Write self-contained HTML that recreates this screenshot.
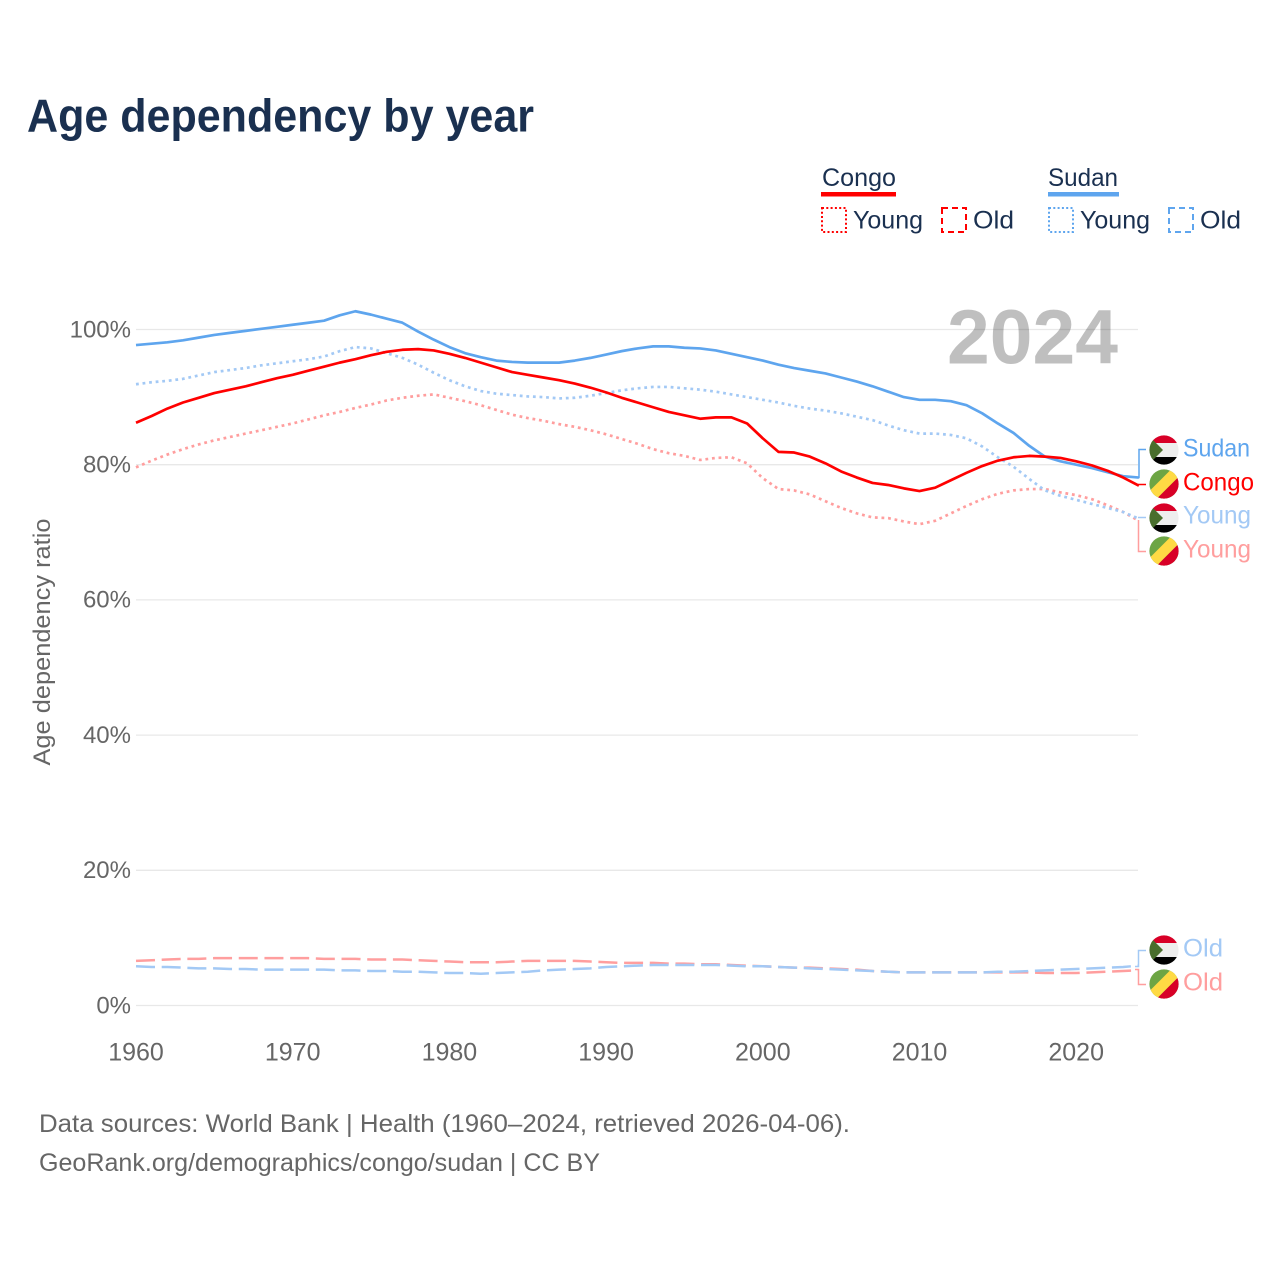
<!DOCTYPE html>
<html lang="en">
<head>
<meta charset="utf-8">
<title>Age dependency by year</title>
<style>
html,body{margin:0;padding:0;background:#fff;width:1280px;height:1280px;overflow:hidden}
svg{display:block}
text{font-family:"Liberation Sans",sans-serif}
</style>
</head>
<body>
<svg id="chart" xmlns="http://www.w3.org/2000/svg" width="1280" height="1280" viewBox="0 0 1280 1280">
  <defs>
    <clipPath id="flag-clip"><circle cx="15" cy="15" r="14.6"/></clipPath>
    <g id="flag-sudan">
      <g clip-path="url(#flag-clip)">
        <rect x="0" y="0" width="30" height="8" fill="#d80027"/>
        <rect x="0" y="8" width="30" height="14" fill="#eeeeee"/>
        <rect x="0" y="22" width="30" height="8" fill="#000000"/>
        <polygon points="0,1 14,15 0,29" fill="#496e2d"/>
      </g>
    </g>
    <g id="flag-congo">
      <g clip-path="url(#flag-clip)">
        <rect x="0" y="0" width="30" height="30" fill="#6da544"/>
        <polygon points="0,22.500 22.500,0 30,0 30,7.500 7.500,30 0,30" fill="#ffda44"/>
        <polygon points="7.500,30 30,7.500 30,30" fill="#d80027"/>
      </g>
    </g>
  </defs>

  <text x="27" y="131.500" font-size="46" font-weight="700" fill="#1a3050" textLength="507" lengthAdjust="spacingAndGlyphs">Age dependency by year</text>

  <g id="grid"></g>
  <g id="yticks"></g>
  <g id="xticks"></g>

  <text transform="translate(50,642) rotate(-90)" text-anchor="middle" font-size="24" fill="#666666" textLength="247" lengthAdjust="spacingAndGlyphs">Age dependency ratio</text>

  <text x="947" y="363.500" font-size="77" font-weight="700" fill="#000000" fill-opacity="0.25" textLength="171" lengthAdjust="spacingAndGlyphs">2024</text>

  <g id="series"></g>

  <g fill="none" stroke-width="1.500">
    <path d="M1138 477.500H1139V449.500H1146" stroke="#5ea5ee"/>
    <path d="M1138 484.500H1146" stroke="#ff0000"/>
    <path d="M1138 517.500H1146" stroke="#a3c9f5"/>
    <path d="M1138.500 520V551.500H1146" stroke="#ff9e9e"/>
    <path d="M1135 966.500H1138.500V950.500H1146" stroke="#a3c9f5"/>
    <path d="M1135 969.500H1138.500V984.500H1146" stroke="#ff9e9e"/>
  </g>

  <g>
    <use href="#flag-sudan" x="1149" y="435"/>
    <text x="1183" y="456.500" font-size="25" fill="#5ea5ee" textLength="67" lengthAdjust="spacingAndGlyphs">Sudan</text>
    <use href="#flag-congo" x="1149" y="469"/>
    <text x="1183" y="490.500" font-size="25" fill="#ff0000" textLength="71" lengthAdjust="spacingAndGlyphs">Congo</text>
    <use href="#flag-sudan" x="1149" y="503"/>
    <text x="1183" y="523.500" font-size="25" fill="#a3c9f5" textLength="68" lengthAdjust="spacingAndGlyphs">Young</text>
    <use href="#flag-congo" x="1149" y="536"/>
    <text x="1183" y="557.500" font-size="25" fill="#ff9e9e" textLength="68" lengthAdjust="spacingAndGlyphs">Young</text>
    <use href="#flag-sudan" x="1149" y="935"/>
    <text x="1183" y="956.500" font-size="25" fill="#a3c9f5" textLength="40" lengthAdjust="spacingAndGlyphs">Old</text>
    <use href="#flag-congo" x="1149" y="969"/>
    <text x="1183" y="990.500" font-size="25" fill="#ff9e9e" textLength="40" lengthAdjust="spacingAndGlyphs">Old</text>
  </g>

  <g fill="#1a3050">
    <text x="822" y="186" font-size="25" textLength="74" lengthAdjust="spacingAndGlyphs">Congo</text>
    <rect x="821" y="192" width="75" height="4.500" fill="#ff0000"/>
    <rect x="822" y="208" width="24" height="24" fill="none" stroke="#ff0000" stroke-width="2" stroke-dasharray="2 2.300"/>
    <text x="853" y="228.500" font-size="25" textLength="70" lengthAdjust="spacingAndGlyphs">Young</text>
    <rect x="942" y="208" width="24" height="24" fill="none" stroke="#ff0000" stroke-width="2" stroke-dasharray="6 4"/>
    <text x="973" y="228.500" font-size="25" textLength="41" lengthAdjust="spacingAndGlyphs">Old</text>
    <text x="1048" y="186" font-size="25" textLength="70" lengthAdjust="spacingAndGlyphs">Sudan</text>
    <rect x="1048" y="192" width="71" height="4.500" fill="#5ea5ee"/>
    <rect x="1049" y="208" width="24" height="24" fill="none" stroke="#5ea5ee" stroke-width="2" stroke-dasharray="2 2.300"/>
    <text x="1080" y="228.500" font-size="25" textLength="70" lengthAdjust="spacingAndGlyphs">Young</text>
    <rect x="1169" y="208" width="24" height="24" fill="none" stroke="#5ea5ee" stroke-width="2" stroke-dasharray="6 4"/>
    <text x="1200" y="228.500" font-size="25" textLength="41" lengthAdjust="spacingAndGlyphs">Old</text>
  </g>

  <text x="39" y="1132" font-size="25" fill="#666666" textLength="811" lengthAdjust="spacingAndGlyphs">Data sources: World Bank | Health (1960–2024, retrieved 2026-04-06).</text>
  <text x="39" y="1171" font-size="25" fill="#666666" textLength="561" lengthAdjust="spacingAndGlyphs">GeoRank.org/demographics/congo/sudan | CC BY</text>
</svg>

<script>
var startYear = 1960;
var yTickValues = [0, 20, 40, 60, 80, 100];
var xTickValues = [1960, 1970, 1980, 1990, 2000, 2010, 2020];

var sudanTotal = [97.7,97.9,98.1,98.4,98.8,99.2,99.5,99.8,100.1,100.4,100.7,101.0,101.3,102.1,102.7,102.2,101.6,101.0,99.7,98.5,97.4,96.5,95.9,95.4,95.2,95.1,95.1,95.1,95.4,95.8,96.3,96.8,97.2,97.5,97.5,97.3,97.2,96.9,96.4,95.9,95.4,94.8,94.3,93.9,93.5,92.9,92.3,91.6,90.8,90.0,89.6,89.6,89.4,88.8,87.6,86.1,84.7,82.8,81.2,80.5,80.0,79.5,78.9,78.3,78.1];
var congoTotal = [86.2,87.2,88.3,89.2,89.9,90.6,91.1,91.6,92.2,92.8,93.3,93.9,94.5,95.1,95.6,96.2,96.7,97.0,97.1,96.9,96.4,95.8,95.1,94.4,93.7,93.3,92.9,92.5,92.0,91.4,90.7,89.9,89.2,88.5,87.8,87.3,86.8,87.0,87.0,86.1,83.9,81.9,81.8,81.2,80.2,79.0,78.1,77.3,77.0,76.5,76.1,76.6,77.7,78.8,79.8,80.6,81.1,81.3,81.2,81.0,80.5,79.9,79.1,78.1,76.9];
var sudanYoung = [91.9,92.2,92.4,92.7,93.2,93.7,94.0,94.3,94.7,95.0,95.3,95.6,96.0,96.8,97.4,97.2,96.5,95.8,94.8,93.6,92.5,91.6,90.9,90.5,90.3,90.1,90.0,89.8,89.9,90.2,90.6,91.0,91.3,91.5,91.5,91.3,91.1,90.8,90.4,90.0,89.6,89.2,88.7,88.3,88.0,87.6,87.1,86.6,85.8,85.1,84.6,84.6,84.4,83.9,82.7,81.1,79.7,77.9,76.2,75.4,74.8,74.2,73.6,73.0,72.0];
var congoYoung = [79.6,80.6,81.5,82.3,83.0,83.6,84.1,84.6,85.1,85.6,86.1,86.7,87.3,87.8,88.4,88.9,89.5,89.9,90.2,90.4,89.9,89.4,88.8,88.1,87.4,86.9,86.5,86.0,85.6,85.1,84.5,83.8,83.1,82.3,81.7,81.3,80.7,81.0,81.1,80.2,78.0,76.4,76.2,75.6,74.6,73.6,72.8,72.2,72.1,71.6,71.2,71.7,72.8,73.9,74.9,75.7,76.2,76.4,76.4,75.9,75.5,74.9,74.0,73.0,71.7];
var congoOld = [6.6,6.7,6.8,6.9,6.9,7.0,7.0,7.0,7.0,7.0,7.0,7.0,6.9,6.9,6.9,6.8,6.8,6.8,6.7,6.6,6.5,6.4,6.4,6.4,6.5,6.6,6.6,6.6,6.6,6.5,6.4,6.3,6.3,6.3,6.2,6.2,6.1,6.1,6.0,5.9,5.8,5.7,5.6,5.6,5.5,5.4,5.3,5.1,5.0,4.9,4.9,4.9,4.9,4.9,4.9,4.9,4.9,4.9,4.8,4.8,4.8,4.9,5.0,5.1,5.2];
var sudanOld = [5.8,5.7,5.7,5.6,5.5,5.5,5.4,5.4,5.3,5.3,5.3,5.3,5.3,5.2,5.2,5.1,5.1,5.0,5.0,4.9,4.8,4.8,4.7,4.8,4.9,5.0,5.2,5.3,5.4,5.5,5.7,5.8,5.9,6.0,6.0,6.0,6.0,6.0,5.9,5.8,5.8,5.7,5.6,5.5,5.4,5.3,5.2,5.1,5.0,4.9,4.9,4.9,4.9,4.9,4.9,5.0,5.0,5.1,5.2,5.3,5.4,5.5,5.6,5.7,5.9];

var NS = 'http://www.w3.org/2000/svg';
function xScale(year) { return 136 + (year - 1960) * 15.67; }
function yScale(value) { return 1005.5 - value * 6.76; }

function makeEl(tag, parentId) {
  var el = document.createElementNS(NS, tag);
  document.getElementById(parentId).appendChild(el);
  return el;
}

yTickValues.forEach(function (v) {
  var line = makeEl('line', 'grid');
  
  
  line.setAttribute('x1', 136);
  line.setAttribute('x2', 1138);
  line.setAttribute('y1', yScale(v));
  line.setAttribute('y2', yScale(v));
  line.setAttribute('stroke', '#e8e8e8');
  line.setAttribute('stroke-width', '1.300');

  var label = makeEl('text', 'yticks');
  
  
  label.setAttribute('x', 131);
  label.setAttribute('y', yScale(v) + 7.800);
  label.setAttribute('text-anchor', 'end');
  label.setAttribute('font-size', '24');
  label.setAttribute('fill', '#666666');
  label.textContent = v + '%';
});

xTickValues.forEach(function (yr) {
  var label = makeEl('text', 'xticks');
  
  
  label.setAttribute('x', xScale(yr));
  label.setAttribute('y', 1060.500);
  label.setAttribute('text-anchor', 'middle');
  label.setAttribute('font-size', '25');
  label.setAttribute('fill', '#666666');
  label.textContent = yr;
});

function drawSeries(values, name, color, width, dash) {
  var d = values.map(function (v, i) {
    return (i ? 'L' : 'M') + xScale(startYear + i).toFixed(2) + ' ' + yScale(v).toFixed(2);
  }).join('');
  var path = makeEl('path', 'series');
  
  
  path.setAttribute('d', d);
  path.setAttribute('fill', 'none');
  path.setAttribute('stroke', color);
  path.setAttribute('stroke-width', width);
  path.setAttribute('stroke-linejoin', 'round');
  if (dash) path.setAttribute('stroke-dasharray', dash);
}

drawSeries(congoOld, 'line-congo-old', '#ff9e9e', 2.5, '19 6.7');
drawSeries(sudanOld, 'line-sudan-old', '#a3c9f5', 2.5, '19 6.7');
drawSeries(congoYoung, 'line-congo-young', '#ff9e9e', 2.7, '2.8 3.8');
drawSeries(sudanYoung, 'line-sudan-young', '#a3c9f5', 2.7, '2.8 3.8');
drawSeries(sudanTotal, 'line-sudan-total', '#5ea5ee', 2.7, null);
drawSeries(congoTotal, 'line-congo-total', '#ff0000', 2.7, null);
</script>
</body>
</html>
